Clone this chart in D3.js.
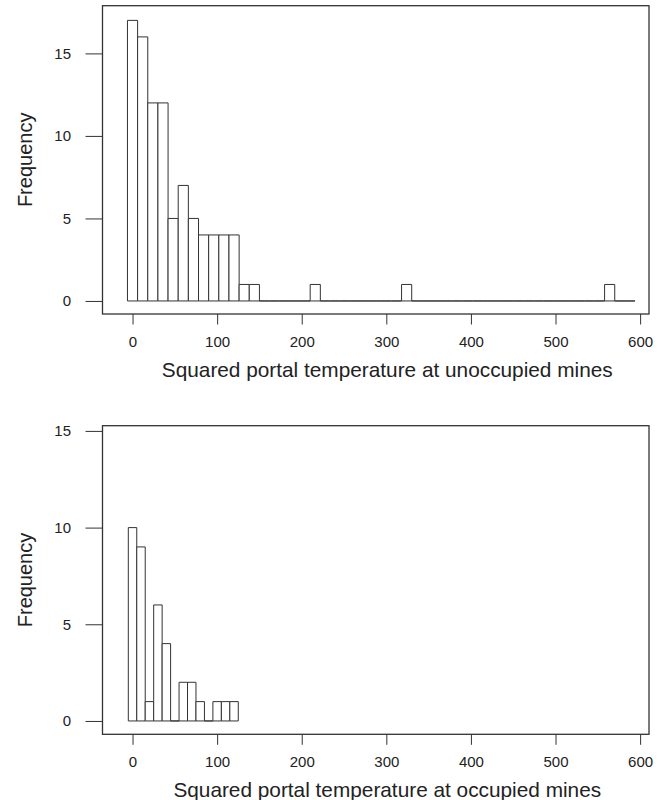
<!DOCTYPE html>
<html>
<head>
<meta charset="utf-8">
<script src="https://cdn.jsdelivr.net/npm/d3@7"></script>
<style>
  body { margin: 0; background: #fff; }
  svg { display: block; }
  text { font-family: "Liberation Sans", Arial, sans-serif; fill: #222; }
</style>
</head>
<body>
<div id="chart"></div>
<script>
// histogram counts
var unoccupiedCounts = [17, 16, 12, 12, 5, 7, 5, 4, 4, 4, 4, 1, 1,
    0, 0, 0, 0, 0, 1, 0, 0, 0, 0, 0, 0, 0, 0, 1,
    0, 0, 0, 0, 0, 0, 0, 0, 0, 0, 0, 0, 0, 0, 0, 0, 0, 0, 0, 1, 0, 0];
var unoccupiedBinStart = -6, unoccupiedBinWidth = 12;

var occupiedCounts = [10, 9, 1, 6, 4, 0, 2, 2, 1, 0, 1, 1, 1];
var occupiedBinStart = -5, occupiedBinWidth = 10;

var xTicks = [0, 100, 200, 300, 400, 500, 600];
var yTicks = [0, 5, 10, 15];
var yLabel = "Frequency";
var xTitles = ["Squared portal temperature at unoccupied mines",
               "Squared portal temperature at occupied mines"];

var width = 665, height = 800;
var svg = d3.select("#chart").append("svg")
    .attr("width", width)
    .attr("height", height);

function drawHist(box, counts, binStart, binWidth, yDomain, title) {
    var x = d3.scaleLinear().domain([-35.5, 610.5]).range([box.left, box.right]);
    var y = d3.scaleLinear().domain(yDomain).range([box.bottom, box.top]);

    var g = svg.append("g");

    var bins = counts.map(function (c, i) {
        return {x0: binStart + i * binWidth, x1: binStart + (i + 1) * binWidth, n: c};
    });

    g.selectAll(".bar")
        .data(bins)
        .enter().append("path")
        .attr("class", "bar")
        .attr("fill", "#fff")
        .attr("stroke", "#333")
        .attr("stroke-width", 1)
        .attr("d", function (d) {
            return "M" + x(d.x0) + "," + y(0)
                + "V" + y(d.n)
                + "H" + x(d.x1)
                + "V" + y(0) + "Z";
        });

    // box
    g.append("rect")
        .attr("x", box.left)
        .attr("y", box.top)
        .attr("width", box.right - box.left)
        .attr("height", box.bottom - box.top)
        .attr("fill", "none")
        .attr("stroke", "#333")
        .attr("stroke-width", 1.3);

    var xAxis = g.append("g")
        .attr("transform", "translate(0," + box.bottom + ")")
        .call(d3.axisBottom(x).tickValues(xTicks).tickSize(10.5).tickSizeOuter(0).tickPadding(12));
    xAxis.select(".domain").remove();
    xAxis.selectAll("line").attr("stroke", "#333");
    xAxis.selectAll("text")
        .style("font-family", "'Liberation Sans', Arial, sans-serif")
        .style("font-size", "15px")
        .attr("fill", "#222");

    var yAxis = g.append("g")
        .attr("transform", "translate(" + box.left + ",0)")
        .call(d3.axisLeft(y).tickValues(yTicks).tickSize(17).tickSizeOuter(0).tickPadding(14.5));
    yAxis.select(".domain").remove();
    yAxis.selectAll("line").attr("stroke", "#333");
    yAxis.selectAll("text")
        .style("font-family", "'Liberation Sans', Arial, sans-serif")
        .style("font-size", "15px")
        .attr("fill", "#222");

    g.append("text")
        .attr("transform", "translate(32," + ((box.top + box.bottom) / 2) + ") rotate(-90)")
        .attr("text-anchor", "middle")
        .style("font-size", "20px")
        .text(yLabel);

    g.append("text")
        .attr("x", (box.left + box.right) / 2 + 11.5)
        .attr("y", box.bottom + 63)
        .attr("text-anchor", "middle")
        .style("font-size", "20.8px")
        .text(title);
}

drawHist({left: 102.5, right: 649, top: 5.7, bottom: 314},
    unoccupiedCounts, unoccupiedBinStart, unoccupiedBinWidth, [-0.79, 17.89], xTitles[0]);
drawHist({left: 102.5, right: 649, top: 425.7, bottom: 734.3},
    occupiedCounts, occupiedBinStart, occupiedBinWidth, [-0.69, 15.27], xTitles[1]);
</script>
</body>
</html>
